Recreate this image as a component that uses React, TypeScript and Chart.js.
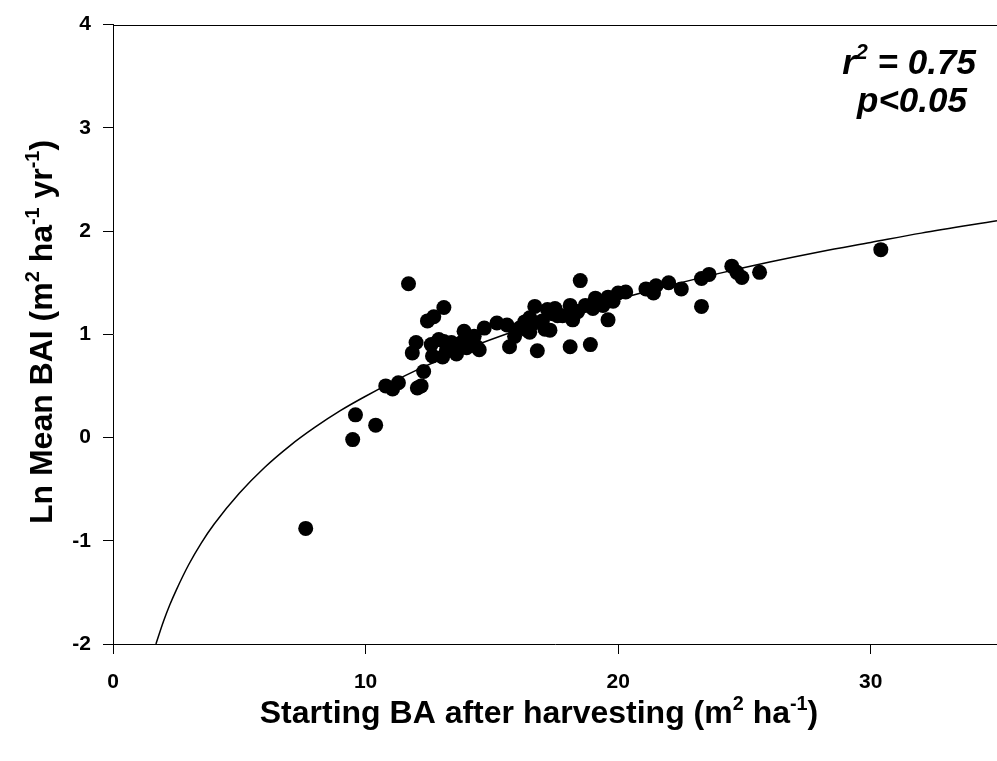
import React, { useEffect, useRef } from "react";
import { Chart, registerables } from "chart.js";

Chart.register(...registerables);

// Starting BA after harvesting (m2 ha-1)
const startingBA = [
  7.63, 9.49, 9.6, 10.4, 10.8, 11.07, 11.3, 11.7, 11.85, 12.0, 12.05, 12.2, 12.3, 12.45, 12.7, 13.1,
  12.6, 12.65, 12.9, 13.05, 13.1, 13.2, 13.4, 13.6, 13.8, 13.9, 14.0, 14.1, 14.3, 14.4, 14.5, 14.7,
  15.2, 15.6, 15.7, 15.9, 16.1, 16.3, 16.4, 16.5, 16.5, 16.6, 16.7, 16.8, 17.0, 17.1, 17.2, 17.3,
  17.4, 17.5, 17.6, 17.8, 18.1, 18.2, 18.2, 18.1, 18.4, 18.5, 18.7, 18.9, 19.0, 19.1, 19.4, 19.6,
  19.6, 19.8, 20.0, 20.3, 21.1, 21.4, 21.5, 22.0, 22.5, 23.3, 23.3, 23.6, 24.5, 24.7, 24.9, 25.6, 30.4,
];
// Ln Mean BAI (m2 ha-1 yr-1)
const lnMeanBAI = [
  -0.88, -0.02, 0.22, 0.12, 0.5, 0.47, 0.53, 1.49, 0.82, 0.92, 0.48, 0.5, 0.64, 1.13, 1.17, 1.26,
  0.9, 0.79, 0.95, 0.78, 0.93, 0.84, 0.92, 0.81, 0.92, 1.03, 0.87, 0.95, 0.98, 0.88, 0.85, 1.06,
  1.11, 1.09, 0.88, 0.98, 1.06, 1.12, 1.04, 1.16, 1.02, 1.1, 1.27, 0.84, 1.13, 1.05, 1.24, 1.04,
  1.2, 1.25, 1.18, 1.18, 1.28, 1.17, 1.14, 0.88, 1.22, 1.52, 1.28, 0.9, 1.25, 1.35, 1.28, 1.36,
  1.14, 1.32, 1.4, 1.41, 1.44, 1.4, 1.47, 1.5, 1.44, 1.54, 1.27, 1.58, 1.66, 1.6, 1.55, 1.6, 1.82,
];

// Fitted curve
const fitX = [1.7, 2, 2.25, 2.5, 3, 3.5, 4, 5, 6, 7, 8, 9, 10, 12, 14, 16, 18, 20, 22, 24, 26, 28, 30, 32, 35];
const fitY = [
  -2.0, -1.78, -1.62, -1.48, -1.23, -1.02, -0.84, -0.54, -0.29, -0.08, 0.1, 0.26, 0.4, 0.65, 0.86,
  1.04, 1.2, 1.34, 1.47, 1.59, 1.7, 1.8, 1.89, 1.98, 2.1,
];

const xTickValues = [0, 10, 20, 30];
const xRange = [0, 35];
const yRange = [-2, 4];

const xTitleParts = [
  { t: "Starting BA after harvesting (m", sup: false },
  { t: "2", sup: true },
  { t: " ha", sup: false },
  { t: "-1", sup: true },
  { t: ")", sup: false },
];
const yTitleParts = [
  { t: "Ln Mean BAI (m", sup: false },
  { t: "2", sup: true },
  { t: " ha", sup: false },
  { t: "-1", sup: true },
  { t: " yr", sup: false },
  { t: "-1", sup: true },
  { t: ")", sup: false },
];
const statLine1 = [
  { t: "r", sup: false },
  { t: "2", sup: true },
  { t: " = 0.75", sup: false },
];
const statLine2 = [{ t: "p<0.05", sup: false }];

const FAMILY = '"Liberation Sans", Arial, Helvetica, sans-serif';

type Part = { t: string; sup: boolean };

function fontFor(size: number, italic: boolean) {
  return `${italic ? "italic " : ""}bold ${size}px ${FAMILY}`;
}

function measureRich(ctx: CanvasRenderingContext2D, parts: Part[], size: number, italic: boolean) {
  let w = 0;
  for (const p of parts) {
    ctx.font = fontFor(p.sup ? size * 0.62 : size, italic);
    w += ctx.measureText(p.t).width;
  }
  return w;
}

function drawRich(
  ctx: CanvasRenderingContext2D,
  parts: Part[],
  cx: number,
  baseline: number,
  size: number,
  italic: boolean
) {
  const w = measureRich(ctx, parts, size, italic);
  let x = cx - w / 2;
  ctx.textAlign = "left";
  ctx.textBaseline = "alphabetic";
  ctx.fillStyle = "#000";
  for (const p of parts) {
    const s = p.sup ? size * 0.62 : size;
    ctx.font = fontFor(s, italic);
    ctx.fillText(p.t, x, p.sup ? baseline - size * 0.42 : baseline);
    x += ctx.measureText(p.t).width;
  }
}

const decorPlugin = {
  id: "decor",
  afterDraw(chart: any) {
    const ctx: CanvasRenderingContext2D = chart.ctx;
    const area = chart.chartArea;
    ctx.save();
    // top frame line
    ctx.strokeStyle = "#000";
    ctx.lineWidth = 1;
    ctx.beginPath();
    ctx.moveTo(area.left, Math.round(area.top) + 0.5);
    ctx.lineTo(area.right, Math.round(area.top) + 0.5);
    ctx.stroke();

    // x title
    drawRich(ctx, xTitleParts, 539, 723, 32, false);

    // y title
    ctx.save();
    ctx.translate(52, 332);
    ctx.rotate(-Math.PI / 2);
    drawRich(ctx, yTitleParts, 0, 0, 32, false);
    ctx.restore();

    // statistics
    drawRich(ctx, statLine1, 909, 74, 35, true);
    drawRich(ctx, statLine2, 912, 112, 35, true);
    ctx.restore();
  },
};

export default function App() {
  const ref = useRef<HTMLCanvasElement | null>(null);

  useEffect(() => {
    if (!ref.current) return;
    const points = startingBA.map((x, i) => ({ x, y: lnMeanBAI[i] }));
    const curve = fitX.map((x, i) => ({ x, y: fitY[i] }));
    const tickFont = { family: FAMILY, size: 21, weight: "bold" as const };

    const chart = new Chart(ref.current, {
      type: "scatter",
      data: {
        datasets: [
          {
            label: "Ln Mean BAI",
            data: points,
            backgroundColor: "#000",
            borderColor: "#000",
            borderWidth: 0,
            pointRadius: 7.5,
            pointHoverRadius: 7.5,
            order: 0,
          },
          {
            label: "Fit",
            data: curve,
            showLine: true,
            borderColor: "#000",
            borderWidth: 1.5,
            pointRadius: 0,
            pointHoverRadius: 0,
            cubicInterpolationMode: "monotone",
            fill: false,
            order: 1,
          } as any,
        ],
      },
      options: {
        responsive: false,
        animation: false,
        devicePixelRatio: 1,
        layout: { autoPadding: false, padding: { top: 16, right: 0, left: 0, bottom: 0 } },
        plugins: {
          legend: { display: false },
          tooltip: { enabled: false },
        },
        scales: {
          x: {
            type: "linear",
            min: xRange[0],
            max: xRange[1],
            ticks: {
              stepSize: 10,
              color: "#000",
              font: tickFont,
              padding: 16,
              maxRotation: 0,
            },
            afterBuildTicks: (scale: any) => {
              scale.ticks = xTickValues.map((v) => ({ value: v }));
            },
            afterFit: (scale: any) => {
              scale.height = 117;
            },
            grid: {
              drawOnChartArea: false,
              drawTicks: true,
              tickLength: 10,
              color: "#000",
              tickColor: "#000",
            },
            border: { display: true, color: "#000", width: 1 },
          },
          y: {
            type: "linear",
            min: yRange[0],
            max: yRange[1],
            ticks: {
              stepSize: 1,
              color: "#000",
              font: tickFont,
              padding: 12,
            },
            afterFit: (scale: any) => {
              scale.width = 113;
            },
            grid: {
              drawOnChartArea: false,
              drawTicks: true,
              tickLength: 10,
              color: "#000",
              tickColor: "#000",
            },
            border: { display: true, color: "#000", width: 1 },
          },
        },
      },
      plugins: [decorPlugin],
    });
    return () => chart.destroy();
  }, []);

  return (
    <div style={{ position: "fixed", left: 0, top: 0, width: 997, height: 761, background: "#fff" }}>
      <canvas ref={ref} width={997} height={761} style={{ display: "block", width: 997, height: 761 }} />
    </div>
  );
}
